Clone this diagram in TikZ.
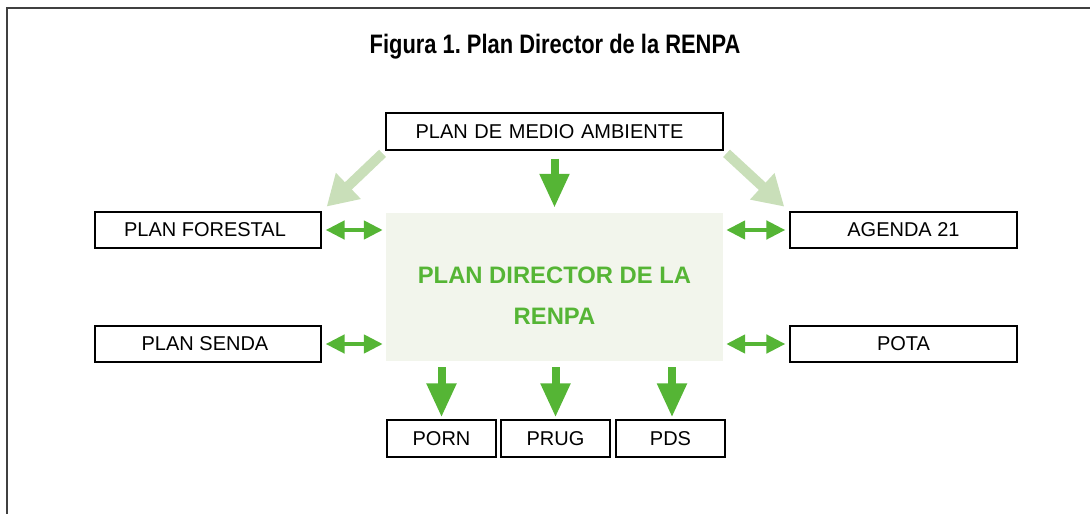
\documentclass[tikz,border=0pt]{standalone}
\usepackage{fontspec}
\setmainfont{Liberation Sans}
\usetikzlibrary{arrows.meta}
\definecolor{grn}{HTML}{55B535}
\definecolor{lgrn}{HTML}{C9DFB9}
\definecolor{cfill}{HTML}{F2F5EC}
\frenchspacing
\tikzset{
  box/.style={draw=black, line width=1.2pt, fill=white, inner sep=0pt, font=\fontsize{20}{22}\selectfont},
  bigarrow/.style={draw=grn, line width=8pt, -{Triangle[length=34pt,width=28pt]}},
  lightarrow/.style={draw=lgrn, line width=10pt, -{Triangle[length=30pt,width=34pt]}},
  dblarrow/.style={draw=grn, line width=4.5pt, {Triangle[length=19pt,width=18pt]}-{Triangle[length=19pt,width=18pt]}},
}
\begin{document}
\begin{tikzpicture}[x=1pt,y=-1pt]
\useasboundingbox (0,0) rectangle (1090,514);
\draw[draw=black!75, line width=1.5pt] (7,514) -- (7,8) -- (1090,8);
\node (title) at (555,47) {\scalebox{0.82}[1]{\fontsize{26.7}{30}\selectfont\bfseries Figura 1. Plan Director de la RENPA}};
\node[box, minimum width=337pt, minimum height=37pt, text width=337pt, align=center] (pma) at (554.5,131.5) {\hspace*{-10pt}PLAN DE MEDIO AMBIENTE};
\node[fill=cfill, inner sep=0pt, minimum width=337pt, minimum height=148pt, align=center, text=grn,
  font=\fontsize{23.8}{41}\selectfont\bfseries] (ctr) at (554.5,287) {\rule{0pt}{33pt}PLAN DIRECTOR DE LA\\RENPA};
\node[box, minimum width=226pt, minimum height=36pt] (pf) at (208,230) {\hspace*{-6pt}PLAN FORESTAL};
\node[box, minimum width=226pt, minimum height=36pt] (ps) at (208,344) {\hspace*{-6pt}PLAN SENDA};
\node[box, minimum width=227pt, minimum height=36pt] (ag) at (903.5,230) {AGENDA 21};
\node[box, minimum width=227pt, minimum height=36pt] (pota) at (903.5,344) {POTA};
\node[box, minimum width=109pt, minimum height=37pt] (porn) at (441.5,438.5) {PORN};
\node[box, minimum width=109pt, minimum height=37pt] (prug) at (555.5,438.5) {PRUG};
\node[box, minimum width=109pt, minimum height=37pt] (pds) at (670.5,438.5) {PDS};
% arrows
\draw[bigarrow, shorten <=8pt, shorten >=5pt] (pma.south) -- (ctr.north);
\draw[lightarrow, shorten <=4pt, shorten >=7pt] (pma.south west) -- (pf.north east);
\draw[lightarrow, shorten <=4pt, shorten >=7pt] (pma.south east) -- (ag.north west);
\draw[dblarrow, shorten <=4pt, shorten >=3pt] (pf.east) -- (pf.east -| ctr.west);
\draw[dblarrow, shorten <=4pt, shorten >=3pt] (ps.east) -- (ps.east -| ctr.west);
\draw[dblarrow, shorten <=4pt, shorten >=3pt] (ag.west) -- (ag.west -| ctr.east);
\draw[dblarrow, shorten <=4pt, shorten >=3pt] (pota.west) -- (pota.west -| ctr.east);
\draw[bigarrow, shorten <=6pt, shorten >=2pt] (porn.north |- ctr.south) -- (porn.north);
\draw[bigarrow, shorten <=6pt, shorten >=2pt] (prug.north |- ctr.south) -- (prug.north);
\draw[bigarrow, shorten <=6pt, shorten >=2pt] ([xshift=1.5pt]pds.north |- ctr.south) -- ([xshift=1.5pt]pds.north);
\end{tikzpicture}
\end{document}
